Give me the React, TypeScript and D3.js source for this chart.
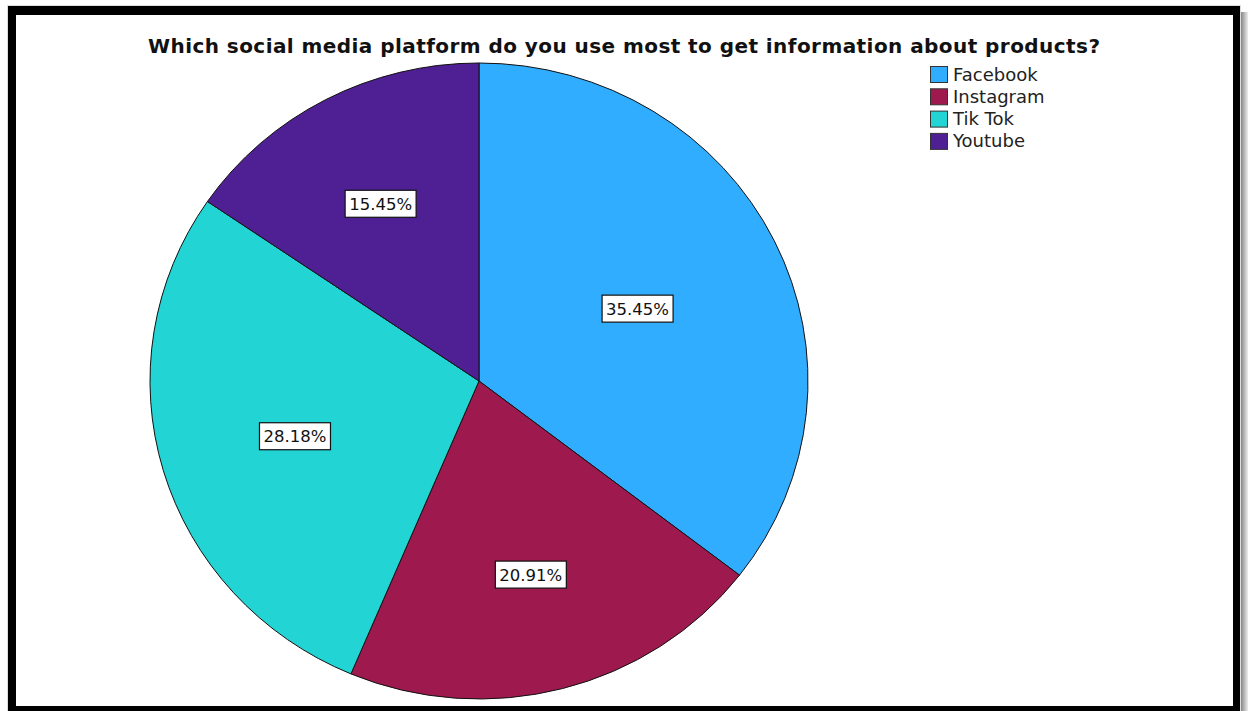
import React from "react";
import * as d3 from "d3";

const title = "Which social media platform do you use most to get information about products?";
const categories = ["Facebook", "Instagram", "Tik Tok", "Youtube"];
const counts = [39, 23, 31, 17];
const percentLabels = ["35.45%", "20.91%", "28.18%", "15.45%"];
const colors = ["#31adff", "#9e1a4e", "#23d4d4", "#4f2093"];

const W = 1248;
const H = 711;
const cx = 479;
const cy = 381;
const rx = 329;
const ry = 318;
const ky = ry / rx;

export default function App() {
  const pie = d3
    .pie<number>()
    .sort(null)
    .startAngle(0)
    .endAngle(2 * Math.PI)
    .value((d) => d);
  const arcs = pie(counts);
  const arcGen = d3.arc<d3.PieArcDatum<number>>().innerRadius(0).outerRadius(rx);

  const font = "'DejaVu Sans', Verdana, sans-serif";

  return (
    <svg
      width={W}
      height={H}
      style={{ position: "absolute", left: 0, top: 0, background: "#fff" }}
    >
      <defs>
        <linearGradient id="shadowR" x1="0" x2="1" y1="0" y2="0">
          <stop offset="0" stopColor="#777" />
          <stop offset="1" stopColor="#eee" />
        </linearGradient>
      </defs>
      <rect x={0} y={0} width={W} height={H} fill="#fff" />
      <rect x={1240} y={12} width={8} height={H} fill="url(#shadowR)" />
      <rect x={7} y={5} width={1234} height={H} fill="#ddd" />
      <rect x={8} y={6} width={1232} height={H} fill="#000" />
      <rect x={16} y={15} width={1217} height={691} fill="#fff" />

      <text
        x={148}
        y={53}
        fontFamily={font}
        fontWeight="bold"
        fontSize={20}
        textLength={952}
        lengthAdjust="spacing"
        fill="#111"
      >
        {title}
      </text>

      <g transform={`translate(${cx},${cy}) scale(1,${ky})`}>
        {arcs.map((a, i) => (
          <path
            key={categories[i]}
            d={arcGen(a) || ""}
            fill={colors[i]}
            stroke="#111"
            strokeWidth={1}
            vectorEffect="non-scaling-stroke"
          />
        ))}
      </g>

      {arcs.map((a, i) => {
        const mid = (a.startAngle + a.endAngle) / 2;
        const half = (a.endAngle - a.startAngle) / 2;
        const dist = (2 * rx * Math.sin(half)) / (3 * half);
        const x = cx + Math.sin(mid) * dist;
        const y = cy - Math.cos(mid) * dist * ky + 3;
        const bw = 71;
        const bh = 27;
        return (
          <g key={"lab" + i}>
            <rect
              x={x - bw / 2}
              y={y - bh / 2}
              width={bw}
              height={bh}
              fill="#fff"
              stroke="#111"
              strokeWidth={1.2}
            />
            <text
              x={x}
              y={y + 6}
              textAnchor="middle"
              fontFamily={font}
              fontSize={16.5}
              fill="#111"
            >
              {percentLabels[i]}
            </text>
          </g>
        );
      })}

      {categories.map((c, i) => (
        <g key={"leg" + i} transform={`translate(930,${66 + i * 22.3})`}>
          <rect x={0.5} y={0.5} width={17} height={16} fill={colors[i]} stroke="#333" strokeWidth={1} />
          <text x={23} y={14.5} fontFamily={font} fontSize={18} fill="#222">
            {c}
          </text>
        </g>
      ))}
    </svg>
  );
}
